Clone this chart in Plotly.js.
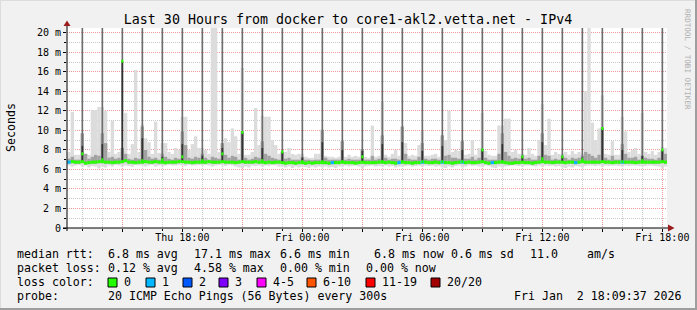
<!DOCTYPE html>
<html><head><meta charset="utf-8">
<script src="https://cdn.plot.ly/plotly-3.0.1.min.js"></script>
<style>html,body{margin:0;padding:0;background:#f1f1f1;} #chart{width:697px;height:310px;}</style>
</head><body><div id="chart"></div>
<script>
// ================= DATA =================
const chartTitle = 'Last 30 Hours from docker to core1-akl2.vetta.net - IPv4';
const firstStep = '2026-01-01T12:20:00';   // first 10-minute step
const stepMinutes = 10;
const viewStart = '2026-01-01T12:14:00';
const viewEnd   = '2026-01-02T18:14:00';

// median rtt per step (ms)
const medianRtt = [
 6.75,6.8,6.75,6.75,
 6.8,6.65,6.7,6.75,6.75,6.8,   6.8,6.75,6.75,6.7,6.75,6.75,   6.8,6.9,6.75,6.75,6.7,6.75,
 6.75,6.8,6.75,6.75,6.8,6.75,  6.75,6.7,6.75,6.75,6.75,6.8,   6.8,6.75,6.75,6.7,6.75,6.75,
 6.75,6.75,6.8,6.75,6.75,6.75, 6.8,6.75,6.75,6.75,6.7,6.75,   6.8,6.75,6.75,6.75,6.8,6.75,
 6.75,6.7,6.75,6.7,6.75,6.75,  6.7,6.65,6.7,6.7,6.65,6.7,     6.7,6.65,6.7,6.65,6.7,6.7,
 6.7,6.7,6.65,6.7,6.7,6.7,     6.75,6.7,6.7,6.7,6.65,6.7,     6.75,6.7,6.7,6.7,6.7,6.75,
 6.75,6.7,6.75,6.7,6.65,6.7,   6.75,6.7,6.7,6.65,6.7,6.7,     6.75,6.75,6.7,6.7,6.75,6.7,
 6.75,6.7,6.7,6.65,6.7,6.75,   6.75,6.7,6.75,6.7,6.7,6.75,    6.8,6.7,6.65,6.7,6.7,6.75,
 6.75,6.7,6.65,6.65,6.7,6.7,   6.75,6.7,6.7,6.65,6.7,6.75,    6.8,6.75,6.75,6.7,6.75,6.75,
 6.75,6.7,6.75,6.75,6.7,6.75,  6.8,6.75,6.75,6.75,6.75,6.75,  6.8,6.75,6.75,6.7,6.75,6.75,
 6.75,6.75,6.75,6.75,6.7,6.75, 6.75,6.75,6.75,6.75,6.75,6.75, 6.8,6.75
];
// lowest ping per step (ms)
const pingMin = [
 6.4,6.3,6.4,6.45,
 6.3,6.4,6.2,6.35,6.3,6.1,   6.3,6.2,6.4,6.3,6.45,6.4,   6.3,6.4,6.35,6.3,6.45,6.4,
 6.4,6.3,6.4,6.45,6.3,6.4,   6.35,6.4,6.45,6.4,6.4,6.45, 6.4,6.35,6.45,6.4,6.4,6.45,
 6.4,6.45,6.4,6.3,6.4,6.45,  6.4,6.35,6.45,6.4,6.3,6.2,  6.15,6.3,6.2,6.4,6.35,6.4,
 6.3,6.4,6.35,6.45,6.4,6.3,  6.3,6.2,6.3,6.15,6.3,6.2,   6.3,6.25,6.15,6.3,6.2,6.3,
 6.2,6.3,6.2,6.25,6.15,6.3,  6.3,6.4,6.3,6.35,6.4,6.3,   6.1,6.3,6.35,6.4,6.3,6.35,
 6.3,6.4,6.3,6.35,6.2,6.3,   6.3,6.35,6.4,6.3,6.35,6.4,  6.3,6.4,6.35,6.4,6.3,6.35,
 6.2,6.15,6.3,6.2,6.35,6.4,  6.2,6.3,6.4,6.35,6.4,6.3,   6.3,6.4,6.35,6.2,6.15,6.3,
 6.2,6.3,6.35,6.4,6.4,6.35,  6.3,6.4,6.4,6.35,6.3,6.4,   6.3,6.4,6.35,6.4,6.3,6.35,
 6.2,6.15,6.3,6.2,6.35,6.3,  6.2,6.35,6.4,6.4,6.35,6.4,  6.3,6.4,6.35,6.4,6.4,6.35,
 6.3,6.4,6.35,6.4,6.4,6.35,  6.3,6.35,6.4,6.4,6.35,6.3,  6.1,6.3
];
// top of the denser (middle) smoke per step (ms)
const pingMidTop = [
 7.1,7.3,7.0,7.0,
 9.7,7.6,7.1,7.3,7.5,7.4,   9.7,8.7,7.2,7.3,7.1,7.2,   8.2,7.6,7.1,7.0,7.2,7.1,
 10.4,8.0,7.3,7.1,7.2,7.0,  7.6,7.3,7.1,7.0,7.2,7.1,   9.9,8.5,7.2,7.1,7.3,7.2,
 7.6,7.2,7.0,7.3,7.2,7.1,   8.7,7.5,7.2,7.4,7.3,7.0,   9.9,7.2,7.0,7.1,7.3,7.2,
 8.9,7.6,7.4,7.2,7.1,7.0,   7.8,7.1,7.2,7.0,7.0,7.0,   7.3,7.0,7.0,6.95,7.0,7.0,
 10.05,7.2,7.0,7.0,7.0,7.0, 8.9,7.0,7.1,7.0,7.0,7.0,   8.1,7.0,7.0,7.4,7.0,7.1,
 9.5,7.2,7.0,7.1,7.1,7.0,   10.4,7.6,7.1,7.0,7.0,7.3,  8.7,7.1,7.0,7.1,7.1,7.0,
 9.5,7.4,7.5,7.2,7.2,7.1,   8.9,7.1,7.1,7.3,7.0,7.2,   8.1,7.2,7.0,7.0,7.0,7.6,
 9.7,7.8,7.4,7.1,7.2,7.1,   7.4,7.1,7.2,7.0,7.0,7.4,   9.7,7.5,7.4,7.0,7.1,7.0,
 7.4,7.2,7.0,7.2,7.1,7.2,   7.4,7.8,7.6,7.4,7.2,7.5,   10.3,7.2,7.0,7.4,7.0,7.0,
 8.6,7.6,7.2,7.2,7.3,7.0,   7.4,7.2,7.1,7.1,7.0,7.2,   8.0,7.6
];
// highest ping per step (ms); values above the axis top are off-chart
const pingMax = [
 7.8,11.9,7.5,7.5,
 9.7,7.6,7.5,12.1,12.1,12.4,  12.4,12.0,7.8,11.0,7.6,7.8,  8.2,11.8,7.6,8.6,16.2,7.8,
 10.6,9.2,8.8,7.6,10.9,7.7,   8.7,8.7,7.8,7.6,8.2,8.0,     11.4,11.4,8.0,8.6,9.4,8.2,
 8.2,8.0,7.6,25,25,7.8,       8.7,9.2,8.8,10.2,9.4,7.6,    16.4,7.5,7.5,7.8,12.3,8.5,
 11.5,11.4,11.4,9.0,8.5,7.6,  8.0,7.8,8.2,7.6,7.5,7.6,     7.6,7.3,7.2,7.2,7.6,7.6,
 10.1,7.4,7.3,7.3,7.2,7.3,    8.9,7.3,7.5,7.3,7.4,7.3,     8.1,7.3,7.2,10.5,7.3,7.4,
 13.0,7.5,7.3,7.6,8.0,7.4,    10.4,8.7,7.4,7.5,7.4,8.5,    9.9,7.4,7.4,7.5,7.6,7.3,
 9.5,9.0,12.0,7.8,8.0,7.9,    8.9,7.5,7.6,9.0,7.5,8.2,     11.8,7.9,7.5,7.4,7.4,10.5,
 10.5,11.2,11.2,7.8,8.0,7.6,  7.6,7.5,8.2,7.6,7.4,9.0,     12.7,8.5,11.2,7.5,7.8,7.6,
 7.6,7.8,7.5,7.9,7.6,7.8,     7.6,14.0,25,10.8,9.0,10.2,   13.6,7.6,7.5,8.9,7.5,7.5,
 11.4,9.9,7.8,8.0,8.2,7.6,    11.8,7.8,7.6,7.9,7.5,7.8,    8.3,8.2
];
// lost pings (of 20) per step: 12:20-12:50, then one row per hour 13:00 Thu .. 17:50 Fri, then 18:00-18:10
const lossCount = [
 1,0,0,0,
 0,0,0,0,0,0,  0,0,0,0,0,0,  0,0,0,0,0,0,  0,0,0,0,0,0,  0,0,0,0,0,0,
 0,0,0,0,0,0,  0,0,0,0,0,0,  0,0,0,0,0,0,  0,0,0,0,0,0,  0,0,0,0,0,0,
 0,0,0,0,0,0,  0,0,0,0,0,0,  0,0,0,1,0,0,  0,0,0,0,0,0,  0,0,0,0,0,0,
 0,0,0,0,0,1,  0,0,0,0,0,0,  1,0,0,0,0,0,  1,0,0,0,0,0,  1,0,0,0,0,0,
 0,0,0,1,0,0,  0,0,0,0,0,0,  0,0,0,0,0,0,  0,0,0,0,0,0,  0,0,0,0,1,0,
 0,0,0,0,0,0,  0,0,0,0,0,0,  1,0,0,0,0,0,  0,0,0,0,0,0,
 0,0
];

// hourly bursts (13:00 Thu ... 18:00 Fri)
const spikeFirstHour = '2026-01-01T13:00:00';
const spikeMedian = [7.6,7.0,17.1,6.9,7.0,7.3,6.9,7.6,9.8,6.9,7.8,6.8,6.8,6.8,7.3,
                     6.8,6.8,6.8,6.8,6.8,8.0,6.8,7.3,7.1,7.3,7.0,10.2,6.8,6.9,8.0];
const spikeDense  = [8.4,8.6,17.1,9.2,7.3,8.6,7.4,8.2,9.8,8.2,7.8,7.2,8.8,8.0,7.9,
                     8.6,8.8,7.9,8.4,8.0,8.1,8.6,7.4,8.8,7.4,7.2,10.2,8.0,7.4,8.0];
const spikeMax    = [25,25,25,25,25,25,25,25,25,25,25,25,25,25,25,
                     25,25,25,25,25,25,25,25,25,25,25,25,25,25,25];

const tickTimes = ['2026-01-01 15:00','2026-01-01 18:00','2026-01-01 21:00','2026-01-02 00:00',
                   '2026-01-02 03:00','2026-01-02 06:00','2026-01-02 09:00','2026-01-02 12:00',
                   '2026-01-02 15:00','2026-01-02 18:00'];
const tickTexts = ['','Thu 18:00','','Fri 00:00','','Fri 06:00','','Fri 12:00','','Fri 18:00'];
const yTickVals = [0,2,4,6,8,10,12,14,16,18,20];
const yTickTexts = ['0','2 m','4 m','6 m','8 m','10 m','12 m','14 m','16 m','18 m','20 m'];

const rttStats  = ['6.8 ms avg','17.1 ms max','6.6 ms min','6.8 ms now','0.6 ms sd','11.0','am/s'];
const lossStats = ['0.12 % avg','4.58 % max','0.00 % min','0.00 % now'];
const lossLabels = ['0','1','2','3','4-5','6-10','11-19','20/20'];
const lossMaxOfBucket = [0,1,2,3,5,10,19,20];
const probeText = '20 ICMP Echo Pings (56 Bytes) every 300s';
const stampText = 'Fri Jan\u00a0\u00a02 18:09:37 2026';

// ================= STYLE =================
const lossColors = ['#26ff00','#00b8ff','#0059ff','#7e00ff','#ff00ff','#ff5500','#ff0000','#a10000'];
const MONO = 'DejaVu Sans Mono';
const L=67,T=28,W=600,H=200;
const px = x => (x-L)/W, py = y => (T+H-y)/H;

function iso(ms){return new Date(ms).toISOString().slice(0,19).replace('T',' ');}
const stepMs = stepMinutes*60000;
const t0 = Date.parse(firstStep+'Z');
const tms = medianRtt.map((_,i)=>t0+i*stepMs);
const times = tms.map(iso);
const s0 = Date.parse(spikeFirstHour+'Z');
const spikeMs = spikeMedian.map((_,k)=>s0+k*3600000);
const spikeTimes = spikeMs.map(iso);
const spikeBase = spikeMs.map(ms=>medianRtt[Math.round((ms-t0)/stepMs)]);

const traces = [];
traces.push({type:'bar', x:times, base:pingMin, y:pingMax.map((v,i)=>v-pingMin[i]),
  width:stepMs, marker:{color:'#dcdcdc',line:{width:0}}, hoverinfo:'skip'});
const midBase = medianRtt.map(v=>v-0.15);
traces.push({type:'bar', x:times, base:midBase, y:pingMidTop.map((v,i)=>v-midBase[i]),
  width:stepMs, marker:{color:'#a2a2a2',line:{width:0}}, hoverinfo:'skip'});
traces.push({type:'bar', x:spikeTimes, base:spikeBase, y:spikeMax.map((v,k)=>v-spikeBase[k]),
  width:5*60000, marker:{color:'#6e6e6e',line:{width:0}}, hoverinfo:'skip'});
traces.push({type:'bar', x:spikeTimes, base:spikeBase, y:spikeDense.map((v,k)=>v-spikeBase[k]),
  width:5*60000, marker:{color:'#333333',line:{width:0}}, hoverinfo:'skip'});

function bucket(n){for(let b=0;b<lossMaxOfBucket.length;b++){if(n<=lossMaxOfBucket[b])return b;}return 0;}
const segs = lossColors.map(()=>({x:[],y:[]}));
medianRtt.forEach((m,i)=>{
  const s = segs[bucket(lossCount[i]||0)];
  s.x.push(iso(tms[i]-stepMs/2), iso(tms[i]+stepMs/2), null);
  s.y.push(m,m,null);
});
segs.forEach((s,b)=>{ if(s.x.length) traces.push({type:'scatter',mode:'lines',x:s.x,y:s.y,
  line:{color:lossColors[b],width:3},hoverinfo:'skip',connectgaps:false}); });
const sx=[], sy=[];
spikeMedian.forEach((m,k)=>{ sx.push(iso(spikeMs[k]-3*60000), iso(spikeMs[k]+3*60000), null); sy.push(m,m,null); });
traces.push({type:'scatter',mode:'lines',x:sx,y:sy,line:{color:lossColors[0],width:3},hoverinfo:'skip'});

// ---- decorations ----
const shapes = [];
const AX = '#000000', ARROW = '#9b1c1c';
shapes.push({type:'line',xref:'paper',yref:'paper',x0:px(63),x1:px(668),y0:0,y1:0,line:{color:AX,width:1}});
shapes.push({type:'line',xref:'paper',yref:'paper',x0:0,x1:0,y0:py(231),y1:py(25),line:{color:AX,width:1}});
shapes.push({type:'path',xref:'paper',yref:'paper',
  path:`M ${px(668)} ${py(224.5)} L ${px(674.5)} ${py(228)} L ${px(668)} ${py(231.5)} Z`,
  fillcolor:ARROW,line:{width:0}});
shapes.push({type:'path',xref:'paper',yref:'paper',
  path:`M ${px(63.5)} ${py(26)} L ${px(67)} ${py(20.5)} L ${px(70.5)} ${py(26)} Z`,
  fillcolor:ARROW,line:{width:0}});
// frame
shapes.push({type:'line',xref:'paper',yref:'paper',x0:px(0),x1:px(697),y0:py(309),y1:py(309),line:{color:'#9e9e9e',width:2}});
shapes.push({type:'line',xref:'paper',yref:'paper',x0:px(696),x1:px(696),y0:py(0),y1:py(310),line:{color:'#9e9e9e',width:2}});
shapes.push({type:'line',xref:'paper',yref:'paper',x0:px(0),x1:px(695),y0:py(0.5),y1:py(0.5),line:{color:'#dcdcdc',width:1}});
shapes.push({type:'line',xref:'paper',yref:'paper',x0:px(0.5),x1:px(0.5),y0:py(0),y1:py(308),line:{color:'#dcdcdc',width:1}});

const annotations = [];
function txt(x,y,text,opts){annotations.push(Object.assign({xref:'paper',yref:'paper',x:px(x),y:py(y),
  text:text,showarrow:false,xanchor:'left',yanchor:'middle',borderpad:0,
  font:{family:MONO,size:11.6,color:'#000'}},opts||{}));}
const rowY=[254,268,282,296];
txt(16,rowY[0],'median rtt:');
[107,193,279,373,450,529,586].forEach((x,j)=>txt(x,rowY[0],rttStats[j]));
txt(16,rowY[1],'packet loss:');
[107,193,279,365].forEach((x,j)=>txt(x,rowY[1],lossStats[j]));
txt(16,rowY[2],'loss color:');
const boxX=[108,146,183,219,257,307,366,431];
boxX.forEach((x,j)=>{
  shapes.push({type:'rect',xref:'paper',yref:'paper',x0:px(x),x1:px(x+9),y0:py(287),y1:py(278),
    fillcolor:lossColors[j],line:{color:'#000',width:1}});
  txt(x+15,rowY[2],lossLabels[j]);
});
txt(16,rowY[3],'probe:');
txt(107,rowY[3],probeText);
txt(513,rowY[3],stampText);
txt(11,128,'Seconds',{textangle:-90,xanchor:'center'});
txt(688,59,'RRDTOOL / TOBI OETIKER',{textangle:90,xanchor:'center',font:{family:MONO,size:7.6,color:'#b0b0b0'}});

const MGRID='#f09a9a', GRID='#c8c8c8';
const layout = {
  width:697, height:310,
  margin:{l:L,r:697-L-W,t:T,b:310-T-H,pad:0,autoexpand:false},
  paper_bgcolor:'#f1f1f1', plot_bgcolor:'#ffffff',
  barmode:'overlay', showlegend:false,
  title:{text:chartTitle, xref:'container', yref:'container', x:348/697, xanchor:'center',
    y:1-19/310, yanchor:'middle', font:{family:MONO,size:13.3,color:'#000'}},
  xaxis:{type:'date', range:[viewStart.replace('T',' '), viewEnd.replace('T',' ')],
    tickmode:'array', tickvals:tickTimes, ticktext:tickTexts,
    showgrid:true, gridcolor:MGRID, griddash:'1px,1px', gridwidth:1,
    zeroline:false, showline:false, ticks:'outside', ticklen:3, tickcolor:'#000',
    ticklabelstandoff:-3,
    tickfont:{family:MONO,size:10,color:'#000'},
    minor:{tickmode:'linear', tick0:'2026-01-01 00:00', dtick:3600000, showgrid:true,
      gridcolor:GRID, griddash:'1px,1px', gridwidth:1, ticks:'outside', ticklen:2, tickcolor:'#000'}},
  yaxis:{range:[0,20.5], tickmode:'array', tickvals:yTickVals, ticktext:yTickTexts,
    showgrid:true, gridcolor:MGRID, griddash:'1px,1px', gridwidth:1,
    zeroline:false, showline:false, ticks:'outside', ticklen:3, tickcolor:'#000',
    tickfont:{family:MONO,size:10,color:'#000'},
    minor:{tickmode:'linear', tick0:0, dtick:1, showgrid:true, gridcolor:GRID,
      griddash:'1px,1px', gridwidth:1, ticks:'outside', ticklen:2, tickcolor:'#000'}},
  shapes:shapes, annotations:annotations
};
Plotly.newPlot('chart', traces, layout, {staticPlot:true, displayModeBar:false});
</script></body></html>
